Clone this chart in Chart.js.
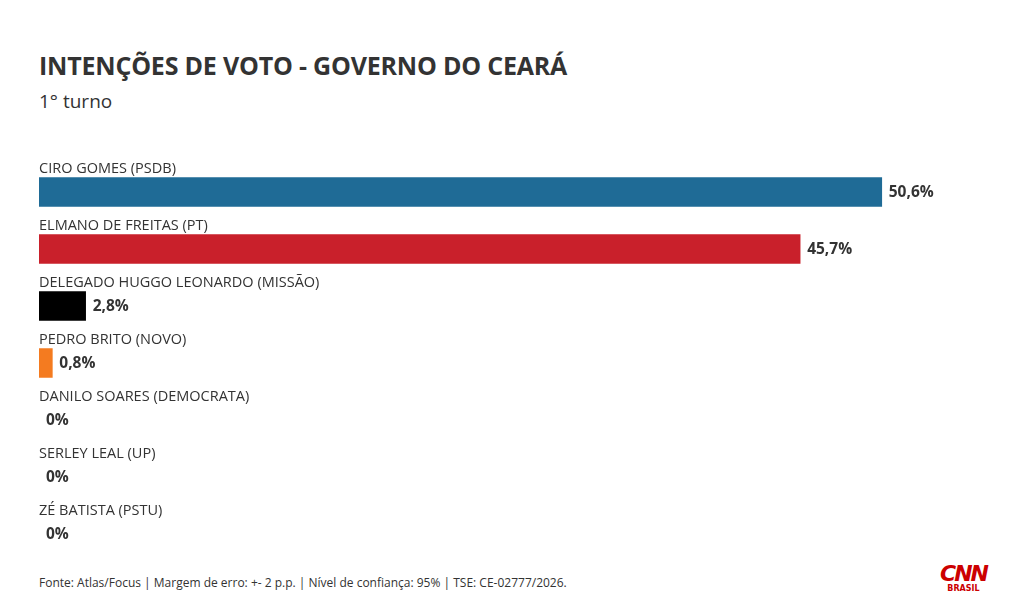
<!DOCTYPE html>
<html><head><meta charset="utf-8">
<script src="https://cdn.jsdelivr.net/npm/chart.js@4"></script>
<style>
body{margin:0;width:1020px;height:610px;background:#fff;font-family:"Open Sans",sans-serif;color:#333;position:relative;overflow:hidden}
#t{position:absolute;left:39px;top:48px;font-size:25px;font-weight:700;letter-spacing:-0.2px}
#s{position:absolute;left:39px;top:88px;font-size:19px}
#f{position:absolute;left:39px;top:574px;font-size:12px}
#logo{position:absolute;left:940px;top:563px;color:#cc0000;text-align:center;font-family:"DejaVu Sans";line-height:1}
#c{position:absolute;left:0;top:0}
</style></head><body>
<div id="t">INTENÇÕES DE VOTO - GOVERNO DO CEARÁ</div>
<div id="s">1° turno</div>
<div id="f">Fonte: Atlas/Focus | Margem de erro: +- 2 p.p. | Nível de confiança: 95% | TSE: CE-02777/2026.</div>
<div id="logo"><div style="font-size:22px;font-weight:900;letter-spacing:-2px;font-style:italic">CNN</div><div style="font-size:8px;font-weight:700">BRASIL</div></div>
<canvas id="c" width="1020" height="610"></canvas>
<script>
const categories=["CIRO GOMES (PSDB)","ELMANO DE FREITAS (PT)","DELEGADO HUGGO LEONARDO (MISSÃO)","PEDRO BRITO (NOVO)","DANILO SOARES (DEMOCRATA)","SERLEY LEAL (UP)","ZÉ BATISTA (PSTU)"];
const values=[50.6,45.7,2.8,0.8,0,0,0];
const valueLabels=["50,6%","45,7%","2,8%","0,8%","0%","0%","0%"];
const colors=["#1f6b96","#c9202b","#000000","#f47b20","rgba(0,0,0,0)","rgba(0,0,0,0)","rgba(0,0,0,0)"];
const labelsPlugin={id:"lbl",afterDatasetsDraw(chart){
 const ctx=chart.ctx,meta=chart.getDatasetMeta(0);
 ctx.save();ctx.textBaseline="middle";
 meta.data.forEach((b,i)=>{
  ctx.fillStyle="#333";ctx.font="14.5px 'Open Sans'";ctx.textAlign="left";
  ctx.fillText(categories[i],chart.chartArea.left,b.y-23);
  ctx.font="bold 15.5px 'Open Sans'";
  ctx.fillText(valueLabels[i],b.x+7,b.y+1);
 });ctx.restore();}};
new Chart(document.getElementById("c"),{type:"bar",
 data:{labels:categories,datasets:[{data:values,backgroundColor:colors,borderWidth:0,barThickness:29}]},
 options:{indexAxis:"y",responsive:false,animation:false,
  layout:{padding:{left:39,right:20,top:163.5,bottom:47.5}},
  plugins:{legend:{display:false},tooltip:{enabled:false}},
  scales:{x:{display:false,min:0,max:57.7},y:{display:false}}},
 plugins:[labelsPlugin]});
</script></body></html>
